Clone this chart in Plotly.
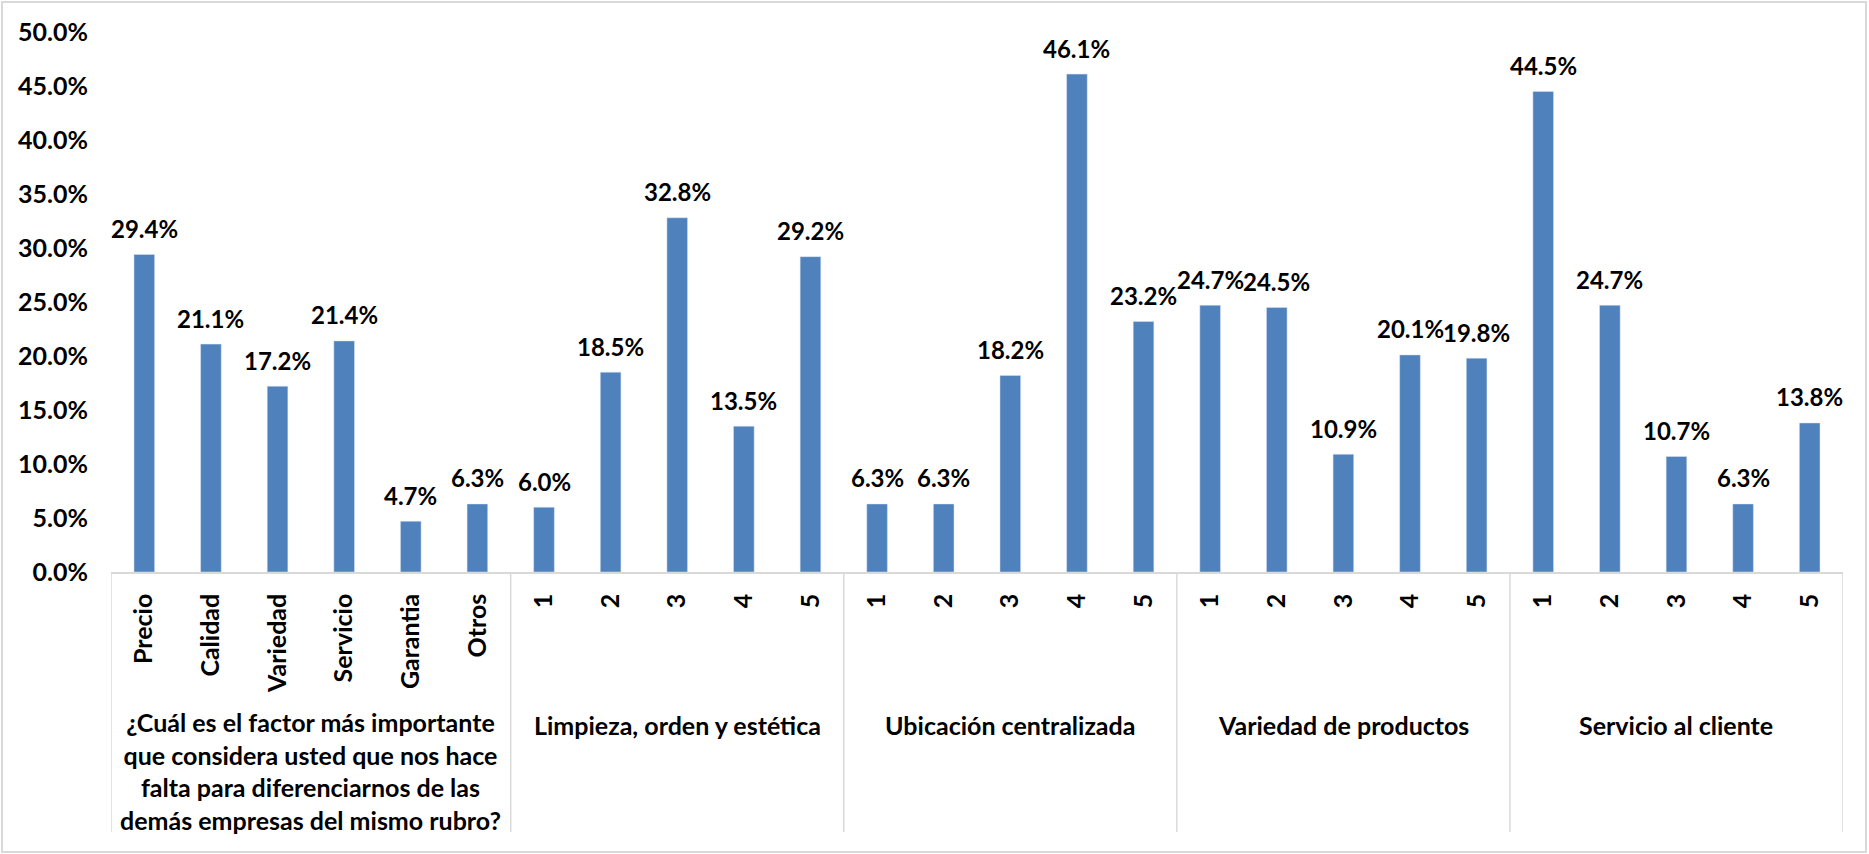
import plotly.graph_objects as go

groups = [
    "¿Cuál es el factor más importante<br>que considera usted que nos hace<br>falta para diferenciarnos de las<br>demás empresas del mismo rubro?",
    "Limpieza, orden y estética",
    "Ubicación centralizada",
    "Variedad de productos",
    "Servicio al cliente",
]
group_items = [
    ["Precio", "Calidad", "Variedad", "Servicio", "Garantia", "Otros"],
    ["1", "2", "3", "4", "5"],
    ["1", "2", "3", "4", "5"],
    ["1", "2", "3", "4", "5"],
    ["1", "2", "3", "4", "5"],
]
group_values = [
    [29.4, 21.1, 17.2, 21.4, 4.7, 6.3],
    [6.0, 18.5, 32.8, 13.5, 29.2],
    [6.3, 6.3, 18.2, 46.1, 23.2],
    [24.7, 24.5, 10.9, 20.1, 19.8],
    [44.5, 24.7, 10.7, 6.3, 13.8],
]

W, H = 1869, 854
ML, MR, MT, MB = 111, 26, 32, 282
PW, PH = W - ML - MR, H - MT - MB

labels, values = [], []
for items, vals in zip(group_items, group_values):
    labels += items
    values += [v / 100 for v in vals]
xs = list(range(len(labels)))

FONT = "Lato"
BAR = "#4F81BD"
GRID = "#D9D9D9"

fig = go.Figure(go.Bar(
    x=xs, y=values, width=0.31,
    marker=dict(color=BAR, line=dict(color="#DCE6F2", width=0.5)),
    hoverinfo="skip",
))

annotations = []
for x, v in zip(xs, values):
    annotations.append(dict(
        x=x, y=v, xref="x", yref="y", text=f"{v*100:.1f}%", showarrow=False,
        yanchor="middle", xanchor="center", yshift=26,
        font=dict(family=FONT, size=24, color="black", weight="bold"),
    ))

def py2paper(py):
    return (H - MB - py) / PH

def px2paper(px):
    return (px - ML) / PW

shapes = []
start = 0
bounds = [-0.5]
for gi, items in enumerate(group_items):
    n = len(items)
    center = start + (n - 1) / 2
    end = start + n
    bounds.append(end - 0.5)
    multi = "<br>" in groups[gi]
    annotations.append(dict(
        x=center, xref="x", yref="paper",
        y=py2paper(771 if multi else 725), yanchor="middle", xanchor="center",
        text=groups[gi], showarrow=False, align="center",
        font=dict(family=FONT, size=25, color="black", weight="bold"),
    ))
    start = end

for b in bounds:
    shapes.append(dict(type="line", xref="x", yref="paper", x0=b, x1=b,
                       y0=0, y1=py2paper(832), line=dict(color=GRID, width=1.5)))

shapes.append(dict(type="rect", xref="paper", yref="paper",
                   x0=px2paper(2), x1=px2paper(1866), y0=py2paper(852), y1=py2paper(2),
                   line=dict(color=GRID, width=2), layer="below"))

fig.update_layout(
    width=W, height=H,
    margin=dict(l=ML, r=MR, t=MT, b=MB, autoexpand=False),
    paper_bgcolor="white", plot_bgcolor="white",
    showlegend=False,
    annotations=annotations,
    shapes=shapes,
    xaxis=dict(
        range=[-0.5, len(labels) - 0.5], tickmode="array", tickvals=xs, ticktext=labels,
        tickangle=-90, showgrid=False, zeroline=False,
        showline=True, linecolor=GRID, linewidth=1.5,
        ticks="", ticklabelstandoff=10,
        tickfont=dict(family=FONT, size=25, color="black", weight="bold"),
    ),
    yaxis=dict(
        range=[0, 0.5], dtick=0.05, tickformat=".1%", showgrid=False, zeroline=False,
        showline=False, ticks="", ticklabelstandoff=22,
        tickfont=dict(family=FONT, size=25, color="black", weight="bold"),
    ),
)

fig.write_html("out.html")
